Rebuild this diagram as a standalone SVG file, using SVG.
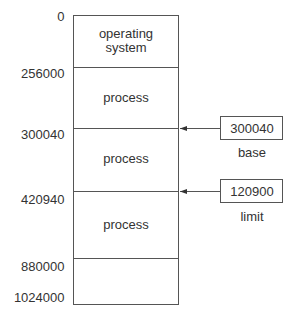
<svg xmlns="http://www.w3.org/2000/svg" width="292" height="320" viewBox="0 0 292 320">
<defs>
<marker id="ah" markerWidth="7" markerHeight="5" refX="7" refY="2.5" orient="auto" markerUnits="userSpaceOnUse">
<path d="M0,0 L7,2.5 L0,5 z" fill="#333"/>
</marker>
</defs>
<style>
text{font-family:"Liberation Sans",Arial,sans-serif;font-size:13px;fill:#333}
.lbl{text-anchor:end}
.c{text-anchor:middle}
.box{fill:#fff;stroke:#555;stroke-width:1}
.ln{stroke:#555;stroke-width:1;fill:none}
</style>
<rect width="292" height="320" fill="#fff"/>
<g id="memory">
<rect class="box" x="73.5" y="15.5" width="105" height="289"/>
<line class="ln" x1="73.5" y1="67.5" x2="178.5" y2="67.5"/>
<line class="ln" x1="73.5" y1="128.5" x2="178.5" y2="128.5"/>
<line class="ln" x1="73.5" y1="191.5" x2="178.5" y2="191.5"/>
<line class="ln" x1="73.5" y1="258.5" x2="178.5" y2="258.5"/>
<text class="c" x="126" y="37.5">operating</text>
<text class="c" x="126" y="51.5">system</text>
<text class="c" x="126" y="102">process</text>
<text class="c" x="126" y="163">process</text>
<text class="c" x="126" y="228.5">process</text>
</g>
<g id="addresses">
<text class="lbl" x="64.5" y="21">0</text>
<text class="lbl" x="64.5" y="78">256000</text>
<text class="lbl" x="64.5" y="139">300040</text>
<text class="lbl" x="64.5" y="204">420940</text>
<text class="lbl" x="64.5" y="271">880000</text>
<text class="lbl" x="64.5" y="301.5">1024000</text>
</g>
<g id="base">
<rect class="box" x="220.5" y="116.5" width="62" height="23"/>
<text class="c" x="252" y="133">300040</text>
<text class="c" x="252" y="157">base</text>
</g>
<g id="limit">
<rect class="box" x="220.5" y="179.5" width="62" height="23"/>
<text class="c" x="252" y="196">120900</text>
<text class="c" x="252" y="221">limit</text>
</g>
<g id="connectors">
<line class="ln" x1="220" y1="128.5" x2="180" y2="128.5" marker-end="url(#ah)"/>
<line class="ln" x1="220" y1="191.5" x2="180" y2="191.5" marker-end="url(#ah)"/>
</g>
</svg>
